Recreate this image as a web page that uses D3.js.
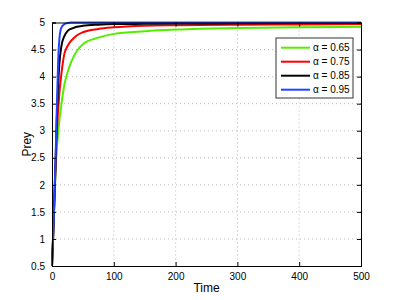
<!DOCTYPE html>
<head>
  <meta charset="utf-8">
  <script src="https://cdn.jsdelivr.net/npm/d3@7"></script>
  <style>
    body { margin: 0; background: #fff; }
    text { font-family: "Liberation Sans", Arial, sans-serif; fill: #000; }
  </style>
</head>
<body>
  <div id="chart"></div>
  <script>
    // time samples shared by every series
    var times = [0, 2, 4, 6, 8, 10, 12, 15, 20, 25, 30, 35, 40, 50, 75, 100, 150, 200, 300, 400, 500];

    // prey values, one array per alpha
    var prey065 = [0.5, 1.1, 1.7, 2.3, 2.7, 2.95, 3.2, 3.47, 3.85, 4.07, 4.24, 4.37, 4.47, 4.6, 4.72, 4.79, 4.84, 4.87, 4.9, 4.91, 4.92];
    var prey075 = [0.5, 1.1, 1.75, 2.4, 3.0, 3.4, 3.7, 4.03, 4.42, 4.56, 4.65, 4.71, 4.76, 4.82, 4.88, 4.91, 4.94, 4.95, 4.96, 4.965, 4.97];
    var prey085 = [0.5, 1.1, 1.8, 2.5, 3.3, 3.85, 4.25, 4.55, 4.75, 4.84, 4.88, 4.9, 4.92, 4.94, 4.96, 4.97, 4.975, 4.98, 4.985, 4.99, 4.99];
    var prey095 = [0.5, 1.1, 1.8, 2.6, 3.5, 4.3, 4.7, 4.9, 4.97, 4.99, 5.0, 5.0, 5.0, 5.0, 5.0, 5.0, 5.0, 5.0, 5.0, 5.0, 5.0];

    var seriesNames = ["\u03b1 = 0.65", "\u03b1 = 0.75", "\u03b1 = 0.85", "\u03b1 = 0.95"];
    var seriesValues = [prey065, prey075, prey085, prey095];
    var seriesColours = ["#55ee00", "#ff0000", "#000000", "#2244ff"];

    var xTicks = [0, 100, 200, 300, 400, 500];
    var yTicks = [0.5, 1, 1.5, 2, 2.5, 3, 3.5, 4, 4.5, 5];

    var W = 399, H = 300;
    var margin = {top: 22.5, right: 38, bottom: 34, left: 52};
    var width = W - margin.left - margin.right,
        height = H - margin.top - margin.bottom;

    var svg = d3.select("#chart").append("svg")
        .attr("width", W)
        .attr("height", H);

    var g = svg.append("g")
        .attr("transform", "translate(" + margin.left + "," + margin.top + ")");

    var x = d3.scaleLinear().domain([0, 500]).range([0, width]);
    var y = d3.scaleLinear().domain([0.5, 5]).range([height, 0]);

    // dotted grid
    g.selectAll(".gx").data(xTicks.slice(1, -1)).enter().append("line")
        .attr("x1", function(d) { return x(d); })
        .attr("x2", function(d) { return x(d); })
        .attr("y1", 0).attr("y2", height)
        .style("stroke", "#aaa").style("stroke-width", 0.8)
        .style("stroke-dasharray", "1,3");
    g.selectAll(".gy").data(yTicks.slice(1, -1)).enter().append("line")
        .attr("y1", function(d) { return y(d); })
        .attr("y2", function(d) { return y(d); })
        .attr("x1", 0).attr("x2", width)
        .style("stroke", "#aaa").style("stroke-width", 0.8)
        .style("stroke-dasharray", "1,3");

    // series lines
    var line = d3.line()
        .x(function(d, i) { return x(times[i]); })
        .y(function(d) { return y(d); })
        .curve(d3.curveMonotoneX);

    seriesValues.forEach(function(vals, k) {
        g.append("path")
            .datum(vals)
            .attr("d", line)
            .style("fill", "none")
            .style("stroke", seriesColours[k])
            .style("stroke-width", 2);
    });

    // axes, MATLAB style: ticks inside, mirrored on top and right
    var axB = g.append("g").attr("transform", "translate(0," + height + ")")
        .call(d3.axisBottom(x).tickValues(xTicks).tickSize(-4).tickPadding(7));
    var axT = g.append("g")
        .call(d3.axisTop(x).tickValues(xTicks).tickSize(-4).tickFormat(""));
    var axL = g.append("g")
        .call(d3.axisLeft(y).tickValues(yTicks).tickSize(-4).tickPadding(7).tickFormat(d3.format("")));
    var axR = g.append("g").attr("transform", "translate(" + width + ",0)")
        .call(d3.axisRight(y).tickValues(yTicks).tickSize(-4).tickFormat(""));

    [axB, axT, axL, axR].forEach(function(a) {
        a.select(".domain").style("stroke", "#000").style("stroke-width", 1);
        a.selectAll(".tick line").style("stroke", "#000");
        a.selectAll("text").style("font-size", "10px");
    });

    // axis titles
    svg.append("text")
        .attr("x", margin.left + width / 2)
        .attr("y", 292)
        .attr("text-anchor", "middle")
        .style("font-size", "12px")
        .text("Time");
    svg.append("text")
        .attr("transform", "translate(31," + (margin.top + height / 2) + ") rotate(-90)")
        .attr("text-anchor", "middle")
        .style("font-size", "12px")
        .text("Prey");

    // legend
    var leg = svg.append("g").attr("transform", "translate(276,38)");
    leg.append("rect")
        .attr("width", 77).attr("height", 60)
        .style("fill", "#fff").style("stroke", "#333").style("stroke-width", 1);
    seriesNames.forEach(function(name, k) {
        var yy = 9.7 + k * 14;
        leg.append("line")
            .attr("x1", 5).attr("x2", 34)
            .attr("y1", yy).attr("y2", yy)
            .style("stroke", seriesColours[k]).style("stroke-width", 2);
        leg.append("text")
            .attr("x", 37).attr("y", yy + 3.5)
            .style("font-size", "10px")
            .text(name);
    });
  </script>
</body>
